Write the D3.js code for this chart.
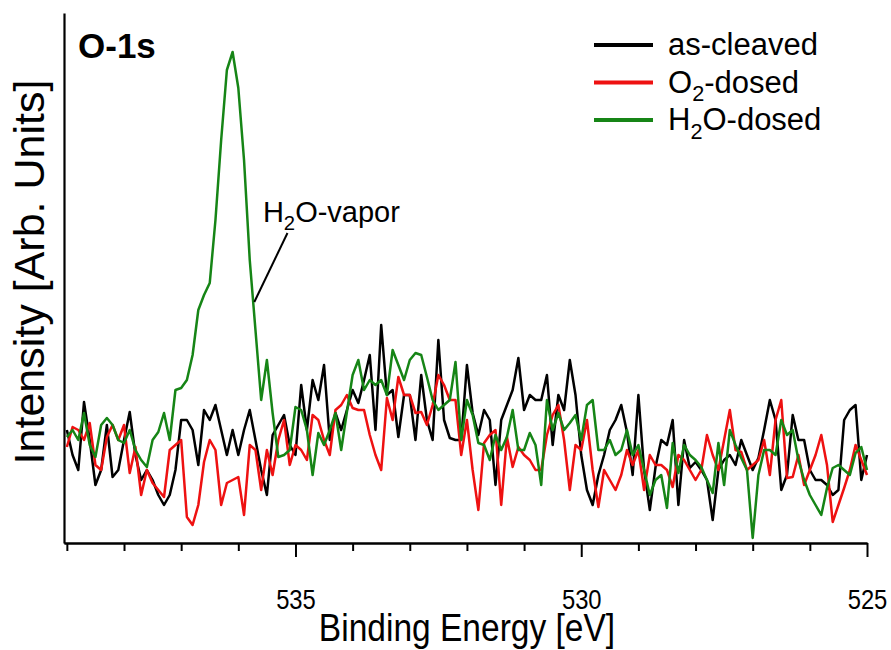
<!DOCTYPE html>
<html>
<head>
<meta charset="utf-8">
<script src="https://cdn.jsdelivr.net/npm/d3@7"></script>
<style>
  body { margin: 0; background: #fff; }
  text { font-family: "Liberation Sans", Arial, sans-serif; fill: #000; }
</style>
</head>
<body>
<svg id="chart"></svg>
<script>
// binding energy grid (eV)
const energy = [
  539.0,538.9,538.8,538.7,538.6,538.5,538.4,538.3,538.2,538.1,
  538.0,537.9,537.8,537.7,537.6,537.5,537.4,537.3,537.2,537.1,
  537.0,536.9,536.8,536.7,536.6,536.5,536.4,536.3,536.2,536.1,
  536.0,535.9,535.8,535.7,535.6,535.5,535.4,535.3,535.2,535.1,
  535.0,534.9,534.8,534.7,534.6,534.5,534.4,534.3,534.2,534.1,
  534.0,533.9,533.8,533.7,533.6,533.5,533.4,533.3,533.2,533.1,
  533.0,532.9,532.8,532.7,532.6,532.5,532.4,532.3,532.2,532.1,
  532.0,531.9,531.8,531.7,531.6,531.5,531.4,531.3,531.2,531.1,
  531.0,530.9,530.8,530.7,530.6,530.5,530.4,530.3,530.2,530.1,
  530.0,529.9,529.8,529.7,529.6,529.5,529.4,529.3,529.2,529.1,
  529.0,528.9,528.8,528.7,528.6,528.5,528.4,528.3,528.2,528.1,
  528.0,527.9,527.8,527.7,527.6,527.5,527.4,527.3,527.2,527.1,
  527.0,526.9,526.8,526.7,526.6,526.5,526.4,526.3,526.2,526.1,
  526.0,525.9,525.8,525.7,525.6,525.5,525.4,525.3,525.2,525.1,
  525.0
]

// intensities (arb. units)
const asCleaved = [
  113,88,73,141,103,58,73,118,66,73,
  103,131,88,63,73,63,48,38,48,73,
  123,123,113,78,133,123,138,113,88,113,
  88,113,133,103,73,48,108,118,128,98,
  88,158,113,163,143,178,103,130,113,133,
  153,140,163,188,113,218,148,153,106,148,
  148,103,168,123,103,203,123,105,103,103,
  178,130,108,133,123,58,123,138,153,185,
  133,148,143,143,168,98,148,133,183,148,
  88,53,38,68,88,113,123,138,111,68,
  148,73,33,76,103,98,123,38,103,75,
  81,73,63,23,73,83,88,78,103,88,
  73,85,113,143,123,53,68,128,103,103,
  73,63,63,58,48,53,123,133,138,63,
  88
]

const o2Dosed = [
  96,116,113,103,120,78,73,106,118,103,
  118,70,96,48,73,60,53,46,93,98,
  103,26,18,38,81,103,93,38,60,63,
  66,28,98,93,53,93,68,103,123,78,
  98,93,83,128,123,103,88,133,138,148,
  135,133,133,108,88,73,145,123,166,148,
  148,130,131,118,138,168,158,143,143,88,
  123,73,33,100,108,113,38,106,76,96,
  88,83,73,73,108,128,138,103,53,98,
  93,123,73,36,73,63,53,68,93,78,
  93,53,88,78,78,73,56,88,83,73,
  63,73,108,88,73,103,133,93,91,73,
  78,83,103,68,123,143,65,66,88,58,
  73,88,108,78,21,38,55,73,98,83,
  68
]

const h2oDosed = [
  106,113,103,130,98,86,118,125,118,103,
  100,113,93,83,76,103,111,130,103,153,
  155,163,188,233,248,260,323,403,473,491,
  455,383,283,213,143,183,130,86,88,93,
  136,133,113,68,110,98,113,130,93,131,
  168,183,153,163,158,163,148,193,178,163,
  183,190,188,166,143,133,138,143,181,103,
  143,128,100,98,83,108,93,106,133,93,
  93,110,98,58,143,113,130,113,120,128,
  103,138,143,93,93,103,88,93,113,88,
  98,73,48,63,68,35,100,70,98,88,
  83,76,63,50,100,58,113,98,85,73,
  5,68,93,93,88,123,108,113,83,63,
  48,38,28,55,75,78,73,68,90,96,
  73
]

const seriesNames = ["as-cleaved", "O_2-dosed", "H_2O-dosed"]
const seriesColors = ["#000000", "#ee1111", "#168516"]
const majorTicks = [535, 530, 525]
const minorTicks = [539, 538, 537, 536, 534, 533, 532, 531, 529, 528, 527, 526]

// subscript helper: "O_2-dosed" -> O, sub 2, -dosed
function richText(sel, label, size) {
    const parts = label.split("_")
    sel.append("tspan").text(parts[0])
    for (let k = 1; k < parts.length; k++) {
        sel.append("tspan").attr("font-size", size * 0.7).attr("dy", size * 0.28).text(parts[k][0])
        sel.append("tspan").attr("dy", -size * 0.28).text(parts[k].slice(1))
    }
}

var margin = {top: 13, right: 24, bottom: 107, left: 64},
    width = 891 - margin.left - margin.right,
    height = 650 - margin.top - margin.bottom

const svg = d3.select("#chart")
    .attr("width", width + margin.left + margin.right)
    .attr("height", height + margin.top + margin.bottom)

const chart = svg.append("g")
    .attr("transform", "translate(" + margin.left + "," + margin.top + ")")

const x = d3.scaleLinear()
    .domain([539.05, 525])
    .range([0, width])

const y = d3.scaleLinear()
    .domain([0, 530])
    .range([height, 0])

// minor ticks
chart.append("g")
    .attr("transform", `translate(0, ${height})`)
    .call(d3.axisBottom(x).tickValues(minorTicks).tickSize(8).tickSizeOuter(0).tickFormat(""))

// major ticks + labels
const xAxis = chart.append("g")
    .attr("transform", `translate(0, ${height})`)
    .call(d3.axisBottom(x).tickValues(majorTicks).tickSize(14).tickSizeOuter(0).tickPadding(32).tickFormat(d3.format("d")))

xAxis.selectAll("text")
    .attr("font-size", 28)
    .attr("font-family", '"Liberation Sans", Arial, sans-serif')
    .attr("transform", "scale(0.85,1)")

chart.selectAll(".domain, .tick line")
    .attr("stroke", "#000")
    .attr("stroke-width", 2)

// y axis: plain line
chart.append("g")
    .call(d3.axisLeft(y).tickValues([]).tickSizeOuter(0))
    .select(".domain")
    .attr("stroke", "#000")
    .attr("stroke-width", 2.2)

// lines
const series = [asCleaved, o2Dosed, h2oDosed]
const line = d3.line()
    .x((d, i) => x(energy[i]))
    .y(d => y(d))

series.forEach(function (vals, k) {
    chart.append("path")
        .datum(vals)
        .attr("fill", "none")
        .attr("stroke", seriesColors[k])
        .attr("stroke-width", 2.5)
        .attr("stroke-linejoin", "round")
        .attr("d", line)
})

// axis titles
svg.append("text")
    .attr("transform", "translate(467,641) scale(0.86,1)")
    .attr("text-anchor", "middle")
    .attr("font-size", 39)
    .text("Binding Energy [eV]")

svg.append("text")
    .attr("transform", "translate(44,272) rotate(-90)")
    .attr("text-anchor", "middle")
    .attr("font-size", 43)
    .text("Intensity [Arb. Units]")

// panel tag
svg.append("text")
    .attr("x", margin.left + 14)
    .attr("y", 58)
    .attr("font-size", 35)
    .attr("font-weight", "bold")
    .text("O-1s")

// annotation for water vapor peak
const note = {label: "H_2O-vapor", textE: 535.57, textV: 321, fromE: 535.14, fromV: 310, toE: 535.72, toV: 241}
const noteText = chart.append("text")
    .attr("x", x(note.textE))
    .attr("y", y(note.textV))
    .attr("font-size", 29)
richText(noteText, note.label, 29)
chart.append("line")
    .attr("x1", x(note.fromE)).attr("y1", y(note.fromV))
    .attr("x2", x(note.toE)).attr("y2", y(note.toV))
    .attr("stroke", "#000")
    .attr("stroke-width", 2)

// legend
const legend = svg.append("g")
    .attr("transform", "translate(594,45)")

seriesNames.forEach(function (name, k) {
    const row = legend.append("g")
        .attr("transform", `translate(0, ${k * 37.5})`)
    row.append("line")
        .attr("x1", 0).attr("x2", 59)
        .attr("stroke", seriesColors[k])
        .attr("stroke-width", 4)
    const t = row.append("text")
        .attr("x", 74)
        .attr("y", 10)
        .attr("font-size", 31)
    richText(t, name, 31)
})
</script>
</body>
</html>
